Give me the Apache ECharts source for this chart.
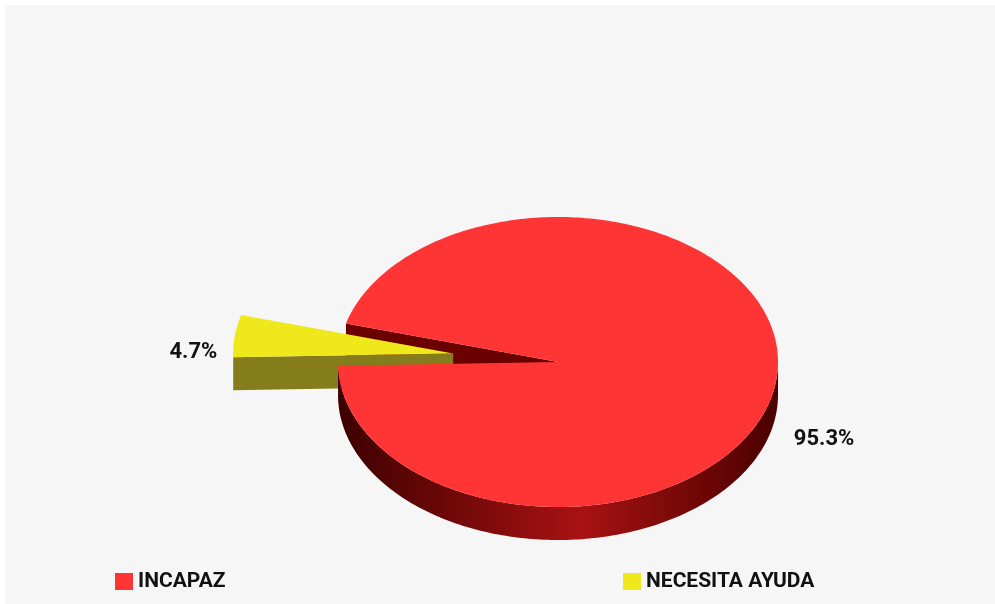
<!DOCTYPE html>
<html>
<head>
<meta charset="utf-8">
<script src="https://cdn.jsdelivr.net/npm/echarts@6/dist/echarts.min.js"></script>
<style>
  html, body { margin: 0; padding: 0; background: #fff; }
  #chart { width: 995px; height: 604px; }
</style>
</head>
<body>
<div id="chart"></div>
<script>
// data
const categories = ['INCAPAZ', 'NECESITA AYUDA'];
const values = [95.3, 4.7];
const labels = ['95.3%', '4.7%'];

// look
const topColors = ['#ff3535', '#efe91b'];
const faceColors = ['#6a0000', '#857c1c'];
const wallStops = [
  [{ offset: 0, color: '#3d0000' }, { offset: 0.55, color: '#a81212' }, { offset: 1, color: '#4a0000' }],
  [{ offset: 0, color: '#6f6815' }, { offset: 1, color: '#857c1c' }]
];
const explode = [0, 0.48];
const labelDy = [59, 18];

const CX = 558, CY = 362, RX = 220, RY = 145, DEPTH = 33;
const START = 181.5; // degrees, counter-clockwise

const total = values.reduce((a, b) => a + b, 0);
const slices = [];
let acc = START;
values.forEach((v, i) => {
  const span = v / total * 360;
  const mid = (acc + span / 2) * Math.PI / 180;
  slices.push({
    a0: acc,
    a1: acc + span,
    ox: Math.cos(mid) * explode[i] * RX,
    oy: -Math.sin(mid) * explode[i] * RY
  });
  acc += span;
});

const rad = d => d * Math.PI / 180;
const pt = (s, deg, r, dz) => [
  CX + s.ox + Math.cos(rad(deg)) * RX * r,
  CY + s.oy - Math.sin(rad(deg)) * RY * r + dz
];
const arc = (s, a, b, dz) => {
  const pts = [];
  const n = Math.max(2, Math.ceil(Math.abs(b - a)));
  for (let k = 0; k <= n; k++) pts.push(pt(s, a + (b - a) * k / n, 1, dz));
  return pts;
};

function renderItem(params, api) {
  const i = params.seriesIndex;
  const s = slices[i];
  const exploded = explode[i] > 0;
  const children = [];
  const c0 = [CX + s.ox, CY + s.oy];
  const c1 = [c0[0], c0[1] + DEPTH];

  // radial faces that face the viewer
  [[s.a0, Math.cos(rad(s.a0)) > 0], [s.a1, Math.cos(rad(s.a1)) < 0]].forEach(([a, vis]) => {
    if (!vis) return;
    children.push({
      type: 'polygon',
      z2: exploded ? 2 : 1,
      shape: { points: [c0, pt(s, a, 1, 0), pt(s, a, 1, DEPTH), c1] },
      style: { fill: faceColors[i] }
    });
  });

  // outer wall, front part only
  for (let k = -1; k <= 2; k++) {
    const lo = Math.max(s.a0, 180 + 360 * k);
    const hi = Math.min(s.a1, 360 + 360 * k);
    if (hi <= lo) continue;
    const pts = arc(s, lo, hi, 0).concat(arc(s, hi, lo, DEPTH));
    children.push({
      type: 'polygon',
      z2: exploded ? 2 : 4,
      shape: { points: pts },
      style: {
        fill: {
          type: 'linear', global: true,
          x: CX + s.ox - RX, y: 0, x2: CX + s.ox + RX, y2: 0,
          colorStops: wallStops[i]
        }
      }
    });
  }

  // top
  children.push({
    type: 'polygon',
    z2: exploded ? 3 : 5,
    shape: { points: [c0].concat(arc(s, s.a0, s.a1, 0)) },
    style: { fill: topColors[i] }
  });

  // label
  const mid = (s.a0 + s.a1) / 2;
  const lp = pt(s, mid, 1.08, labelDy[i]);
  children.push({
    type: 'text',
    z2: 10,
    x: lp[0], y: lp[1],
    style: {
      text: labels[i],
      fill: '#111',
      font: 'bold 22px Roboto',
      align: Math.cos(rad(mid)) >= 0 ? 'left' : 'right',
      verticalAlign: 'middle'
    }
  });

  return { type: 'group', children };
}

const chart = echarts.init(document.getElementById('chart'));

const legendText = {
  fontFamily: 'Roboto',
  fontWeight: 'bold',
  fontSize: 21,
  color: '#111'
};

chart.setOption({
  backgroundColor: '#ffffff',
  animation: false,
  graphic: [{
    type: 'rect',
    z: -10,
    shape: { x: 5, y: 5, width: 995, height: 604 },
    style: { fill: '#f6f6f6' },
    silent: true
  }],
  legend: [
    {
      data: [categories[0]], left: 110, top: 566, icon: 'rect',
      itemWidth: 18, itemHeight: 17, selectedMode: false, textStyle: legendText
    },
    {
      data: [categories[1]], left: 618, top: 566, icon: 'rect',
      itemWidth: 18, itemHeight: 17, selectedMode: false, textStyle: legendText
    }
  ],
  series: categories.map((name, i) => ({
    type: 'custom',
    name: name,
    coordinateSystem: 'none',
    silent: true,
    itemStyle: { color: topColors[i] },
    data: [[values[i]]],
    renderItem: renderItem
  }))
});
</script>
</body>
</html>
